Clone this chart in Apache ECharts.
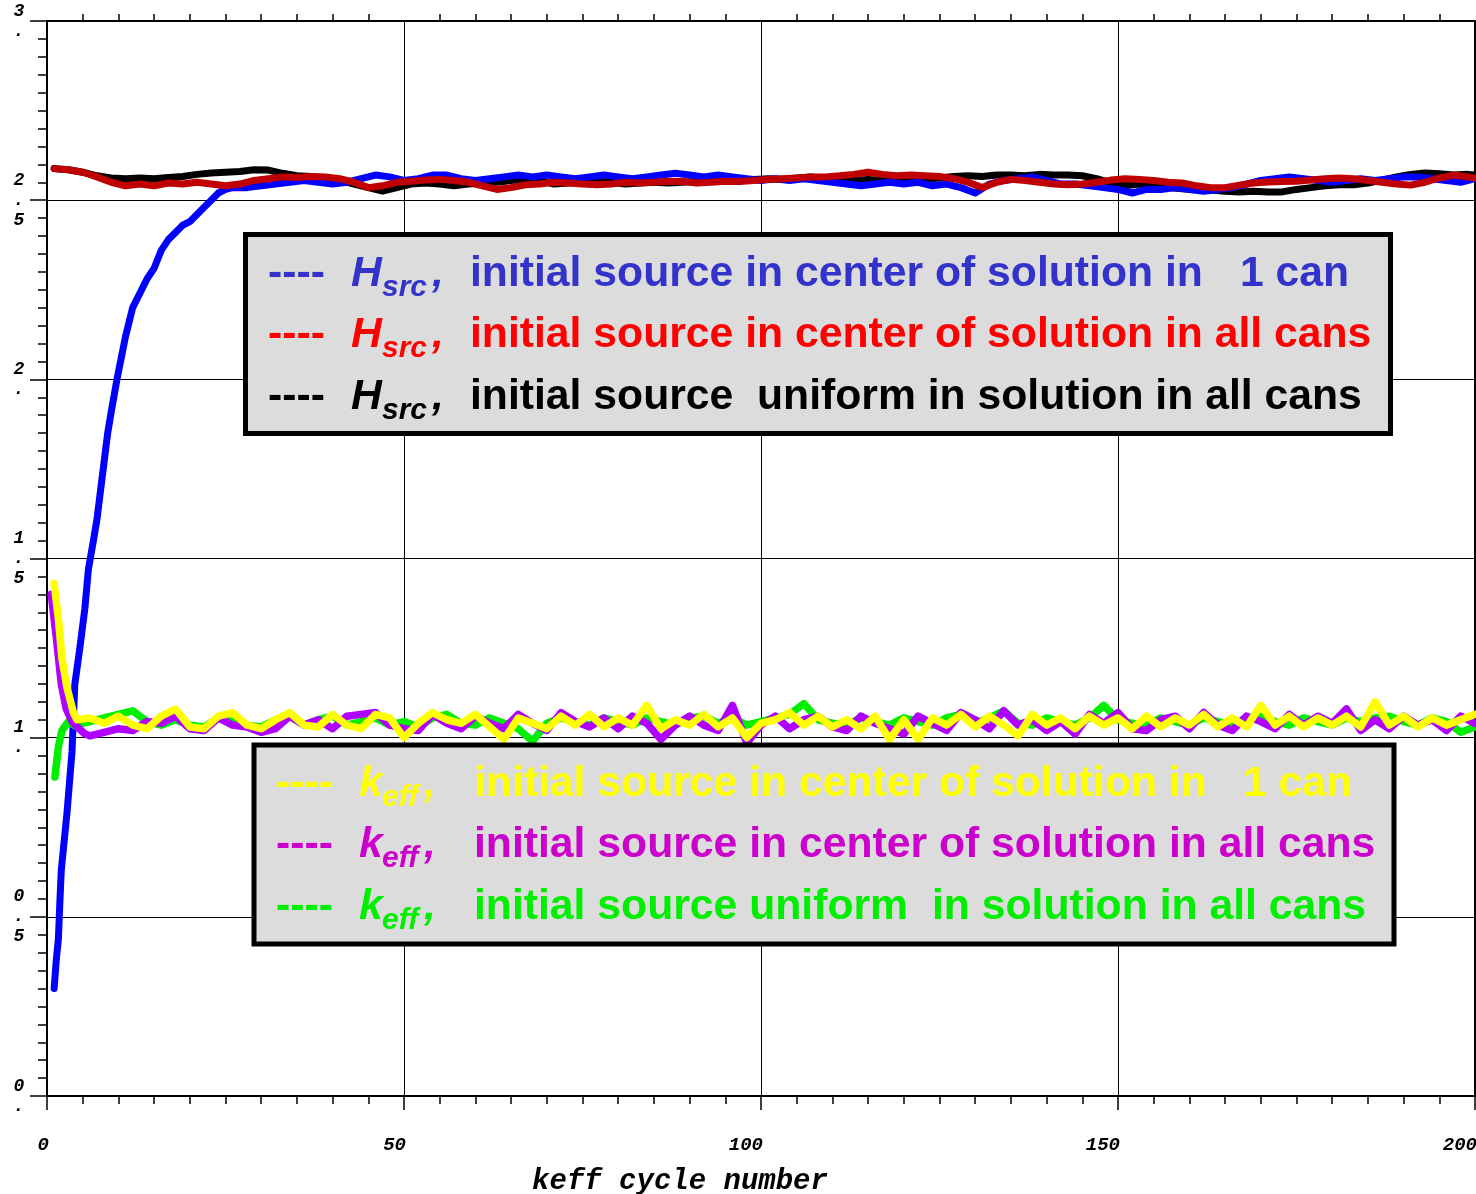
<!DOCTYPE html>
<html>
<head>
<meta charset="utf-8">
<script src="https://cdn.jsdelivr.net/npm/echarts@6/dist/echarts.min.js"></script>
<style>
html,body{margin:0;padding:0;background:#fff;overflow:hidden;}
#chart{width:1476px;height:1194px;}
</style>
</head>
<body>
<div id="chart"></div>
<script>
// ---------------- DATA ----------------
const xTicks = [0, 50, 100, 150, 200];
const yTicks = [0, 0.5, 1, 1.5, 2, 2.5, 3];
const xAxisTitle = 'keff cycle number';

// H_src, initial source in center of solution in 1 can (blue)
const hsrcOneCan = [
  [1,0.30],[1.3,0.38],[1.6,0.44],[1.8,0.54],[2,0.63],[2.3,0.69],[2.8,0.79],[3.5,0.96],[3.9,1.15],
  [4.6,1.25],[5.3,1.36],[5.8,1.47],[6.5,1.55],[7,1.61],[7.5,1.69],[8,1.77],[8.5,1.85],[9,1.91],
  [9.8,2.0],[10.5,2.07],[11,2.12],[12,2.20],[13,2.24],[14,2.28],[15,2.31],[16,2.36],[17,2.39],
  [18,2.41],[19,2.43],[20,2.44],[21,2.46],[22,2.48],[23,2.50],[24,2.52],[25,2.53],[26,2.535],
  [28,2.535],[30,2.54],[32,2.545],[34,2.55],[36,2.555],[38,2.55],[40,2.545],[42,2.55],[44,2.56],
  [46,2.57],[48,2.565],[50,2.555],[52,2.56],[54,2.57],[56,2.57],[58,2.56],[60,2.555],[62,2.56],
  [64,2.565],[66,2.57],[68,2.565],[70,2.57],[72,2.565],[74,2.56],[76,2.565],[78,2.57],[80,2.565],
  [82,2.56],[84,2.565],[86,2.57],[88,2.575],[90,2.57],[92,2.565],[94,2.57],[96,2.565],[98,2.56],
  [100,2.555],[102,2.56],[104,2.555],[106,2.56],[108,2.555],[110,2.55],[112,2.545],[114,2.54],
  [116,2.545],[118,2.55],[120,2.545],[122,2.55],[124,2.54],[126,2.545],[128,2.535],[130,2.52],
  [132,2.545],[134,2.555],[136,2.56],[138,2.565],[140,2.555],[142,2.545],[144,2.545],[146,2.54],
  [148,2.535],[150,2.53],[152,2.52],[154,2.53],[156,2.53],[158,2.535],[160,2.53],[162,2.525],
  [164,2.53],[166,2.535],[168,2.545],[170,2.555],[172,2.56],[174,2.565],[176,2.56],[178,2.555],
  [180,2.55],[182,2.555],[184,2.56],[186,2.555],[188,2.56],[190,2.565],[192,2.565],[194,2.56],
  [196,2.555],[198,2.55],[200,2.56]
];

// H_src, initial source in center of solution in all cans (red)
const hsrcAllCans = [
  [1,2.588],[3,2.585],[5,2.578],[7,2.565],[9,2.55],[11,2.54],[13,2.545],[15,2.54],[17,2.548],
  [19,2.545],[21,2.55],[23,2.545],[25,2.54],[27,2.545],[29,2.555],[31,2.56],[33,2.565],[35,2.563],
  [37,2.566],[39,2.565],[41,2.56],[43,2.55],[45,2.535],[47,2.54],[49,2.55],[51,2.553],[53,2.556],
  [55,2.558],[57,2.555],[59,2.55],[61,2.54],[63,2.53],[65,2.535],[67,2.543],[69,2.545],[71,2.55],
  [73,2.548],[75,2.545],[77,2.543],[79,2.545],[81,2.55],[83,2.548],[85,2.55],[87,2.553],[89,2.552],
  [91,2.548],[93,2.55],[95,2.553],[97,2.552],[99,2.555],[101,2.558],[103,2.56],[105,2.562],
  [107,2.565],[109,2.565],[111,2.568],[113,2.572],[115,2.578],[117,2.572],[119,2.568],[121,2.57],
  [123,2.568],[125,2.566],[127,2.56],[129,2.55],[131,2.535],[133,2.55],[135,2.558],[137,2.555],
  [139,2.55],[141,2.545],[143,2.543],[145,2.545],[147,2.55],[149,2.556],[151,2.56],[153,2.558],
  [155,2.555],[157,2.55],[159,2.548],[161,2.54],[163,2.535],[165,2.535],[167,2.542],[169,2.548],
  [171,2.551],[173,2.552],[175,2.553],[177,2.556],[179,2.56],[181,2.562],[183,2.56],[185,2.555],
  [187,2.55],[189,2.545],[191,2.542],[193,2.55],[195,2.562],[197,2.57],[199,2.565],[200,2.562]
];

// H_src, initial source uniform in solution in all cans (black)
const hsrcUniform = [
  [1,2.588],[3,2.585],[5,2.578],[7,2.568],[9,2.562],[11,2.56],[13,2.562],[15,2.56],[17,2.563],
  [19,2.566],[21,2.572],[23,2.576],[25,2.578],[27,2.58],[29,2.585],[31,2.584],[33,2.575],[35,2.568],
  [37,2.566],[39,2.562],[41,2.555],[43,2.545],[45,2.535],[47,2.525],[49,2.535],[51,2.545],[53,2.548],
  [55,2.545],[57,2.54],[59,2.545],[61,2.548],[63,2.55],[65,2.555],[67,2.56],[69,2.555],[71,2.545],
  [73,2.548],[75,2.552],[77,2.555],[79,2.55],[81,2.545],[83,2.548],[85,2.55],[87,2.548],[89,2.55],
  [91,2.553],[93,2.555],[95,2.552],[97,2.556],[99,2.558],[101,2.56],[103,2.558],[105,2.562],
  [107,2.565],[109,2.56],[111,2.558],[113,2.555],[115,2.558],[117,2.555],[119,2.553],[121,2.556],
  [123,2.558],[125,2.562],[127,2.566],[129,2.568],[131,2.566],[133,2.57],[135,2.57],[137,2.568],
  [139,2.572],[141,2.57],[143,2.57],[145,2.568],[147,2.56],[149,2.548],[151,2.54],[153,2.545],
  [155,2.54],[157,2.535],[159,2.532],[161,2.53],[163,2.528],[165,2.525],[167,2.523],[169,2.525],
  [171,2.523],[173,2.523],[175,2.53],[177,2.535],[179,2.54],[181,2.543],[183,2.543],[185,2.548],
  [187,2.556],[189,2.565],[191,2.572],[193,2.576],[195,2.574],[197,2.57],[199,2.572],[200,2.57]
];

// k_eff start-up transients [cycle, value]
const keffOneCanStart = [[1,1.43],[1.6,1.33],[2.1,1.22],[2.8,1.14],[3.7,1.07],[4.2,1.05],[5,1.052]];
const keffAllCansStart = [[0.6,1.40],[1.3,1.28],[2,1.15],[2.7,1.08],[3.5,1.045],[4.5,1.025],[5.2,1.012]];
const keffUniformStart = [[1.1,0.89],[1.6,0.975],[2.1,1.02],[3,1.045],[4.2,1.03],[5,1.04]];

// k_eff values at cycles 6, 8, 10, ... 200
const keffOneCan = [
  1.055,1.04,1.06,1.035,1.025,1.06,1.08,1.03,1.025,1.06,
  1.07,1.035,1.025,1.05,1.07,1.035,1.03,1.065,1.035,1.025,
  1.065,1.055,1.0,1.04,1.07,1.05,1.04,1.065,1.03,0.995,
  1.055,1.04,1.025,1.06,1.035,1.065,1.03,1.055,1.035,1.09,
  1.025,1.05,1.035,1.065,1.03,1.055,1.0,1.04,1.05,1.07,
  1.035,1.06,1.03,1.05,1.025,1.06,0.995,1.05,0.995,1.055,
  1.035,1.065,1.03,1.06,1.035,1.005,1.065,1.035,1.055,1.025,
  1.06,1.035,1.055,1.025,1.06,1.03,1.055,1.035,1.065,1.03,
  1.055,1.03,1.09,1.035,1.06,1.03,1.055,1.035,1.06,1.03,
  1.1,1.035,1.06,1.03,1.055,1.035,1.05,1.065
];
const keffAllCans = [
  1.005,1.015,1.025,1.02,1.045,1.04,1.06,1.025,1.02,1.055,
  1.035,1.03,1.015,1.025,1.06,1.035,1.05,1.025,1.06,1.065,
  1.07,1.035,1.025,1.02,1.065,1.04,1.025,1.06,1.04,1.025,
  1.065,1.04,1.02,1.07,1.045,1.03,1.055,1.025,1.06,1.04,
  0.995,1.035,1.06,1.035,1.02,1.09,0.985,1.035,1.06,1.025,
  1.05,1.06,1.03,1.02,1.06,1.04,1.025,1.01,1.06,1.04,
  1.02,1.07,1.05,1.025,1.075,1.035,1.05,1.02,1.045,1.01,
  1.065,1.04,1.07,1.025,1.02,1.05,1.06,1.025,1.07,1.035,
  1.02,1.06,1.045,1.025,1.065,1.035,1.06,1.04,1.08,1.02,
  1.05,1.025,1.06,1.035,1.05,1.02,1.06,1.04
];
const keffUniform = [
  1.045,1.055,1.065,1.075,1.045,1.035,1.05,1.035,1.03,1.055,
  1.045,1.035,1.03,1.05,1.06,1.035,1.05,1.06,1.035,1.045,
  1.055,1.035,1.045,1.03,1.055,1.065,1.04,1.035,1.055,1.04,
  1.025,0.99,1.04,1.055,1.045,1.035,1.055,1.045,1.035,1.055,
  1.045,1.035,1.055,1.06,1.04,1.055,1.035,1.045,1.055,1.065,
  1.095,1.05,1.04,1.035,1.055,1.045,1.035,1.055,1.045,1.035,
  1.055,1.065,1.04,1.055,1.075,1.04,1.035,1.055,1.045,1.035,
  1.055,1.09,1.05,1.04,1.035,1.055,1.045,1.035,1.055,1.045,
  1.035,1.055,1.06,1.045,1.035,1.055,1.045,1.035,1.055,1.045,
  1.055,1.06,1.045,1.035,1.055,1.045,1.015,1.03
];

// ---------------- BUILD ----------------
function withCycles(start, vals) {
  return start.concat(vals.map((v, i) => [6 + 2 * i, v]));
}

const monoFont = "'Liberation Mono', 'DejaVu Sans Mono', monospace";
const sansFont = "'Liberation Sans', Arial, Helvetica, sans-serif";

function yLabel(v) {
  const s = (Math.round(v * 10) / 10).toString();
  if (s.indexOf('.') >= 0) return s.split('').join('\n');
  return s + '\n.';
}

function lineSeries(name, data, color, z, w) {
  return {
    name, type: 'line', data, showSymbol: false, symbol: 'none',
    lineStyle: { color, width: w, cap: 'round', join: 'round' },
    itemStyle: { color }, z, animation: false, silent: true
  };
}

const chart = echarts.init(document.getElementById('chart'), null, { renderer: 'canvas', width: 1476, height: 1194 });

// legend graphics
const G = [];
function t(x, base, text, font, size, color) {
  G.push({
    type: 'text', x: x, y: base - 0.31 * size, z: 100, silent: true,
    style: { text, font: font, fill: color, textAlign: 'left', textVerticalAlign: 'middle' }
  });
}
const BF = 'bold 42.7px ' + sansFont;
const IF = 'italic bold 42.7px ' + sansFont;
const SF = 'italic bold 30px ' + sansFont;

G.push({ type: 'rect', z: 90, silent: true, shape: { x: 245.5, y: 234.5, width: 1145, height: 199 },
  style: { fill: '#dcdcdc', stroke: '#000', lineWidth: 5 } });
G.push({ type: 'rect', z: 90, silent: true, shape: { x: 254, y: 745, width: 1140, height: 199 },
  style: { fill: '#dcdcdc', stroke: '#000', lineWidth: 5 } });

const hRows = [
  { base: 287, color: '#3333cc', parts: [[470, 'initial source in center of solution in'], [1240, '1 can']] },
  { base: 348, color: '#ff0000', parts: [[470, 'initial source in center of solution in all cans']] },
  { base: 410, color: '#000000', parts: [[470, 'initial source'], [757, 'uniform in solution in all cans']] }
];
hRows.forEach(r => {
  t(268, r.base, '----', BF, 42.7, r.color);
  t(351, r.base, 'H', IF, 42.7, r.color);
  t(382, r.base + 10, 'src', SF, 30, r.color);
  t(432, r.base, ',', IF, 42.7, r.color);
  r.parts.forEach(p => t(p[0], r.base, p[1], BF, 42.7, r.color));
});
const kRows = [
  { base: 797, color: '#ffff00', parts: [[474, 'initial source in center of solution in'], [1243, '1 can']] },
  { base: 858, color: '#cc00cc', parts: [[474, 'initial source in center of solution in all cans']] },
  { base: 920, color: '#00ee00', parts: [[474, 'initial source uniform'], [932, 'in solution in all cans']] }
];
kRows.forEach(r => {
  t(276, r.base, '----', BF, 42.7, r.color);
  t(359, r.base, 'k', IF, 42.7, r.color);
  t(382, r.base + 10, 'eff', SF, 30, r.color);
  t(424, r.base, ',', IF, 42.7, r.color);
  r.parts.forEach(p => t(p[0], r.base, p[1], BF, 42.7, r.color));
});

const option = {
  backgroundColor: '#ffffff',
  animation: false,
  grid: { left: 47, right: 1, top: 21, bottom: 98, containLabel: false, outerBoundsMode: 'none' },
  xAxis: [{
    type: 'value', min: xTicks[0], max: xTicks[xTicks.length - 1], interval: 50,
    position: 'bottom',
    axisLine: { show: true, onZero: false, lineStyle: { color: '#000', width: 2 } },
    axisTick: { show: true, inside: false, length: 14, lineStyle: { color: '#000', width: 1.5 } },
    minorTick: { show: true, splitNumber: 10, length: 8, lineStyle: { color: '#000', width: 1.5 } },
    splitLine: { show: true, lineStyle: { color: '#000', width: 1 } },
    axisLabel: {
      show: true, margin: 40, align: 'right', padding: [0, -2, 0, 0],
      color: '#000', fontFamily: monoFont, fontStyle: 'italic', fontWeight: 'bold', fontSize: 19,
      formatter: v => String(v)
    },
    name: xAxisTitle, nameLocation: 'middle', nameGap: 71,
    nameTextStyle: { color: '#000', fontFamily: monoFont, fontStyle: 'italic', fontWeight: 'bold', fontSize: 29, padding: [0, 162, 0, 0] }
  }, {
    type: 'value', min: 0, max: 200, interval: 50, position: 'top',
    axisLine: { show: true, onZero: false, lineStyle: { color: '#000', width: 2 } },
    axisTick: { show: true, length: 0, lineStyle: { color: '#000', width: 1.5 } },
    minorTick: { show: true, splitNumber: 10, length: 7, lineStyle: { color: '#000', width: 1.5 } },
    splitLine: { show: false }, axisLabel: { show: false }
  }],
  yAxis: [{
    type: 'value', min: yTicks[0], max: yTicks[yTicks.length - 1], interval: 0.5,
    position: 'left',
    axisLine: { show: true, onZero: false, lineStyle: { color: '#000', width: 2 } },
    axisTick: { show: true, length: 17, lineStyle: { color: '#000', width: 1.5 } },
    minorTick: { show: true, splitNumber: 10, length: 9, lineStyle: { color: '#000', width: 1.5 } },
    splitLine: { show: true, lineStyle: { color: '#000', width: 1 } },
    axisLabel: {
      show: true, margin: 28, align: 'center', verticalAlign: 'middle', lineHeight: 20,
      color: '#000', fontFamily: monoFont, fontStyle: 'italic', fontWeight: 'bold', fontSize: 18,
      formatter: yLabel
    }
  }, {
    type: 'value', min: 0, max: 3, interval: 0.5, position: 'right',
    axisLine: { show: true, onZero: false, lineStyle: { color: '#000', width: 2 } },
    axisTick: { show: false }, splitLine: { show: false }, axisLabel: { show: false }
  }],
  series: [
    lineSeries('Hsrc uniform', hsrcUniform, '#000000', 2, 7),
    lineSeries('Hsrc 1 can', hsrcOneCan, '#0000ff', 3, 7),
    lineSeries('Hsrc all cans', hsrcAllCans, '#c00000', 4, 7),
    lineSeries('keff uniform', withCycles(keffUniformStart, keffUniform), '#00ee00', 5, 7.5),
    lineSeries('keff all cans', withCycles(keffAllCansStart, keffAllCans), '#b000ff', 6, 7.5),
    lineSeries('keff 1 can', withCycles(keffOneCanStart, keffOneCan), '#ffff00', 7, 7.5)
  ],
  graphic: { elements: G }
};
chart.setOption(option);
</script>
</body>
</html>
